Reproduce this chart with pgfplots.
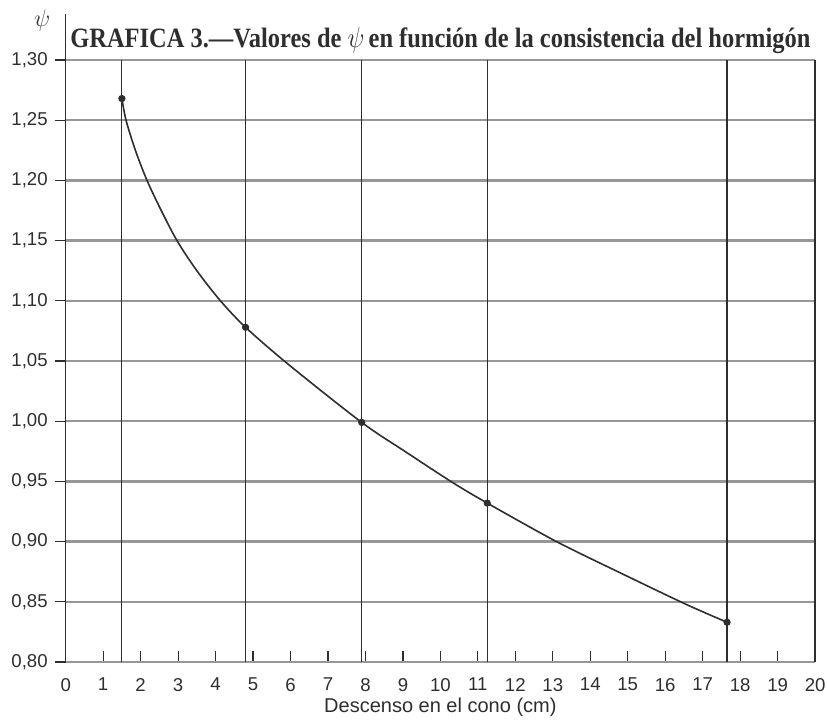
\documentclass[border=0pt]{standalone}
\usepackage{pgfplots}
\pgfplotsset{compat=1.18}
\usepackage{fontspec}
\usepackage{graphicx}
\setmainfont{Liberation Sans}
\newfontfamily\titlefont{Liberation Serif}
\definecolor{gridgray}{HTML}{979797}
\definecolor{ink}{HTML}{2E2E2E}
\begin{document}
\begin{tikzpicture}
\useasboundingbox (-32.85pt,-29pt) rectangle (380.65pt,331pt);
\begin{axis}[
  at={(0,0)}, anchor=south west,
  scale only axis, width=374.7pt, height=301pt,
  xmin=0, xmax=20, ymin=0.80, ymax=1.30,
  xtick={0,1,...,20},
  ytick={0.80,0.85,0.90,0.95,1.00,1.05,1.10,1.15,1.20,1.25,1.30},
  separate axis lines,
  every outer x axis line/.append style={gridgray, line width=1.2pt},
  every outer y axis line/.append style={ink, line width=0.8pt},
  ymajorgrids=true,
  major grid style={gridgray, line width=1.2pt},
  extra x ticks={1.5,4.8,7.9,11.25,17.65},
  extra x tick labels={},
  extra x tick style={grid=major, major grid style={ink, line width=0.55pt}, major tick length=0pt},
  xtick pos=bottom, ytick pos=left,
  xtick align=inside, ytick align=outside,
  major tick length=5.5pt,
  tick style={ink, line width=0.6pt},
  tick label style={font=\fontsize{9.3}{10}\selectfont, text=ink},
  /pgf/number format/assume math mode=true,
  yticklabel style={/pgf/number format/.cd, fixed, fixed zerofill, precision=2, use comma},
  xticklabel style={yshift=-4.5pt},
  xlabel={Descenso en el cono (cm)},
  xlabel style={font=\fontsize{10}{12}\selectfont, text=ink, at={(axis description cs:0.5,0)}, anchor=center, yshift=-22.5pt},
  ylabel={$\psi$},
  ylabel style={font=\fontsize{13}{14}\selectfont, text=ink, rotate=-90, at={(axis description cs:0,1)}, anchor=center, xshift=-11.8pt, yshift=20pt},
  title={\resizebox{370pt}{\height}{\titlefont\bfseries\fontsize{14}{15}\selectfont GRAFICA 3.—Valores de $\psi$\,en función de la consistencia del hormigón}},
  title style={at={(axis description cs:0.5,1)}, anchor=center, yshift=3.5pt, text=ink},
  clip=false,
]
\draw[ink, line width=0.8pt] (rel axis cs:0,1) -- ++(0pt,23pt);
\addplot[ink, line width=0.8pt, smooth, tension=0.5] coordinates {
  (1.5,1.268) (1.61,1.25) (1.86,1.225) (2.17,1.20) (2.55,1.175) (2.97,1.15)
  (3.5,1.125) (4.13,1.10) (4.8,1.078) (5.95,1.047) (7.9,0.999) (9.1,0.974)
  (10.33,0.949) (11.25,0.932) (13.1,0.900) (14.87,0.873) (16.55,0.848) (17.65,0.833)
};
\addplot[only marks, mark=*, mark size=1.6pt, ink] coordinates {
  (1.5,1.268) (4.8,1.078) (7.9,0.999) (11.25,0.932) (17.65,0.833)
};
\end{axis}
\end{tikzpicture}
\end{document}
